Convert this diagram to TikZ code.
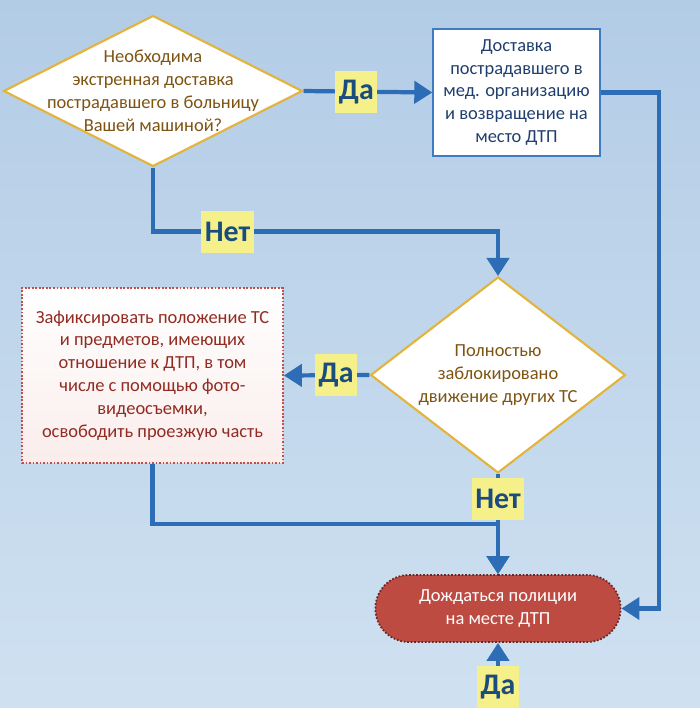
\documentclass[tikz,border=0pt]{standalone}
\usepackage{fontspec}
\setmainfont{Carlito}
\usetikzlibrary{arrows.meta,shapes.geometric,shapes.misc}
\definecolor{bgtop}{HTML}{B3CCE6}
\definecolor{bgbot}{HTML}{CFE1F1}
\definecolor{flowblue}{HTML}{2D6DB5}
\definecolor{answerbg}{HTML}{F6F08A}
\definecolor{answerink}{HTML}{1B4C7E}
\definecolor{gold}{HTML}{E2B43C}
\definecolor{questionink}{HTML}{7E5412}
\definecolor{boxblue}{HTML}{3F7BC2}
\definecolor{boxink}{HTML}{203F6E}
\definecolor{boxred}{HTML}{C0504D}
\definecolor{actink}{HTML}{922B22}
\definecolor{pinkish}{HTML}{FAEDEC}
\definecolor{pillred}{HTML}{BE4B42}
\definecolor{pilledge}{HTML}{6E2420}
\tikzset{
    flow/.style={
        line width=2.4pt,
        flowblue,
        -{Triangle[length=0.36cm,width=0.44cm]}
    },
    answer/.style={
        fill=answerbg,
        text=answerink,
        font=\fontsize{17}{17}\selectfont\bfseries,
        inner xsep=2pt,
        minimum height=0.84cm
    },
    decision/.style={
        diamond,
        draw=gold,
        line width=1.2pt,
        fill=white,
        inner sep=0pt
    },
    qtext/.style={
        text=questionink,
        align=center,
        font=\fontsize{10.5}{13}\selectfont
    },
    deliver box/.style={
        draw=boxblue,
        line width=0.8pt,
        fill=white,
        text=boxink,
        align=center,
        font=\fontsize{10.5}{13}\selectfont,
        minimum width=3.34cm,
        minimum height=2.54cm
    },
    action box/.style={
        draw=boxred,
        densely dotted,
        line width=1pt,
        top color=white,
        bottom color=pinkish,
        text=actink,
        align=center,
        font=\fontsize{10.5}{13}\selectfont,
        minimum width=5.22cm,
        minimum height=3.5cm
    },
    wait pill/.style={
        rounded rectangle,
        draw=pilledge,
        densely dotted,
        line width=1pt,
        fill=pillred,
        text=white,
        align=center,
        font=\fontsize{10.5}{13}\selectfont,
        minimum width=5.14cm,
        minimum height=1.34cm
    }
}
\begin{document}
\begin{tikzpicture}[x=0.02cm,y=-0.02cm]
    \fill[top color=bgtop, bottom color=bgbot] (0,0) rectangle (700,708);
    \useasboundingbox (0,0) rectangle (700,708);

    % boxes
    \node[decision, minimum width=5.98cm, minimum height=3.02cm,
        label={[qtext]center:{Необходима\\экстренная доставка\\пострадавшего в больницу\\Вашей машиной?}}]
        (q1) at (153,91) {};
    \node[deliver box] (deliver) at (516.5,92.5)
        {Доставка\\пострадавшего в\\мед. организацию\\и возвращение на\\место ДТП};
    \node[decision, minimum width=5.1cm, minimum height=3.92cm,
        label={[qtext]center:{Полностью\\заблокировано\\движение других ТС}}]
        (q2) at (498,375) {};
    \node[action box] (act) at (152.5,375.5)
        {Зафиксировать положение ТС\\и предметов, имеющих\\отношение к ДТП, в том\\числе с помощью фото-\\видеосъемки,\\освободить проезжую часть};
    \node[wait pill] (wait) at (498,608.5) {Дождаться полиции\\на месте ДТП};
    \coordinate (bot) at (498,712);

    % connectors
    \draw[flow] (q1.east) -- node[answer, pos=0.41] {Да} (deliver.west);
    \draw[flow] (q1.south) -- ++(0,64) -| node[answer, pos=0.108] {Нет} (q2.north);
    \draw[flow] (deliver.east) -- ++(58,0) |- (wait.east);
    \draw[flow] (q2.west) -- node[answer, pos=0.39] {Да} (act.east);
    \draw[flow] (act.south) -- ++(0,60) -| (wait.north);
    \draw[flow] (q2.south) -- node[answer, pos=0.25] {Нет} (wait.north);
    \draw[flow] (bot) -- node[answer, pos=0.36] {Да} (wait.south);
\end{tikzpicture}
\end{document}
